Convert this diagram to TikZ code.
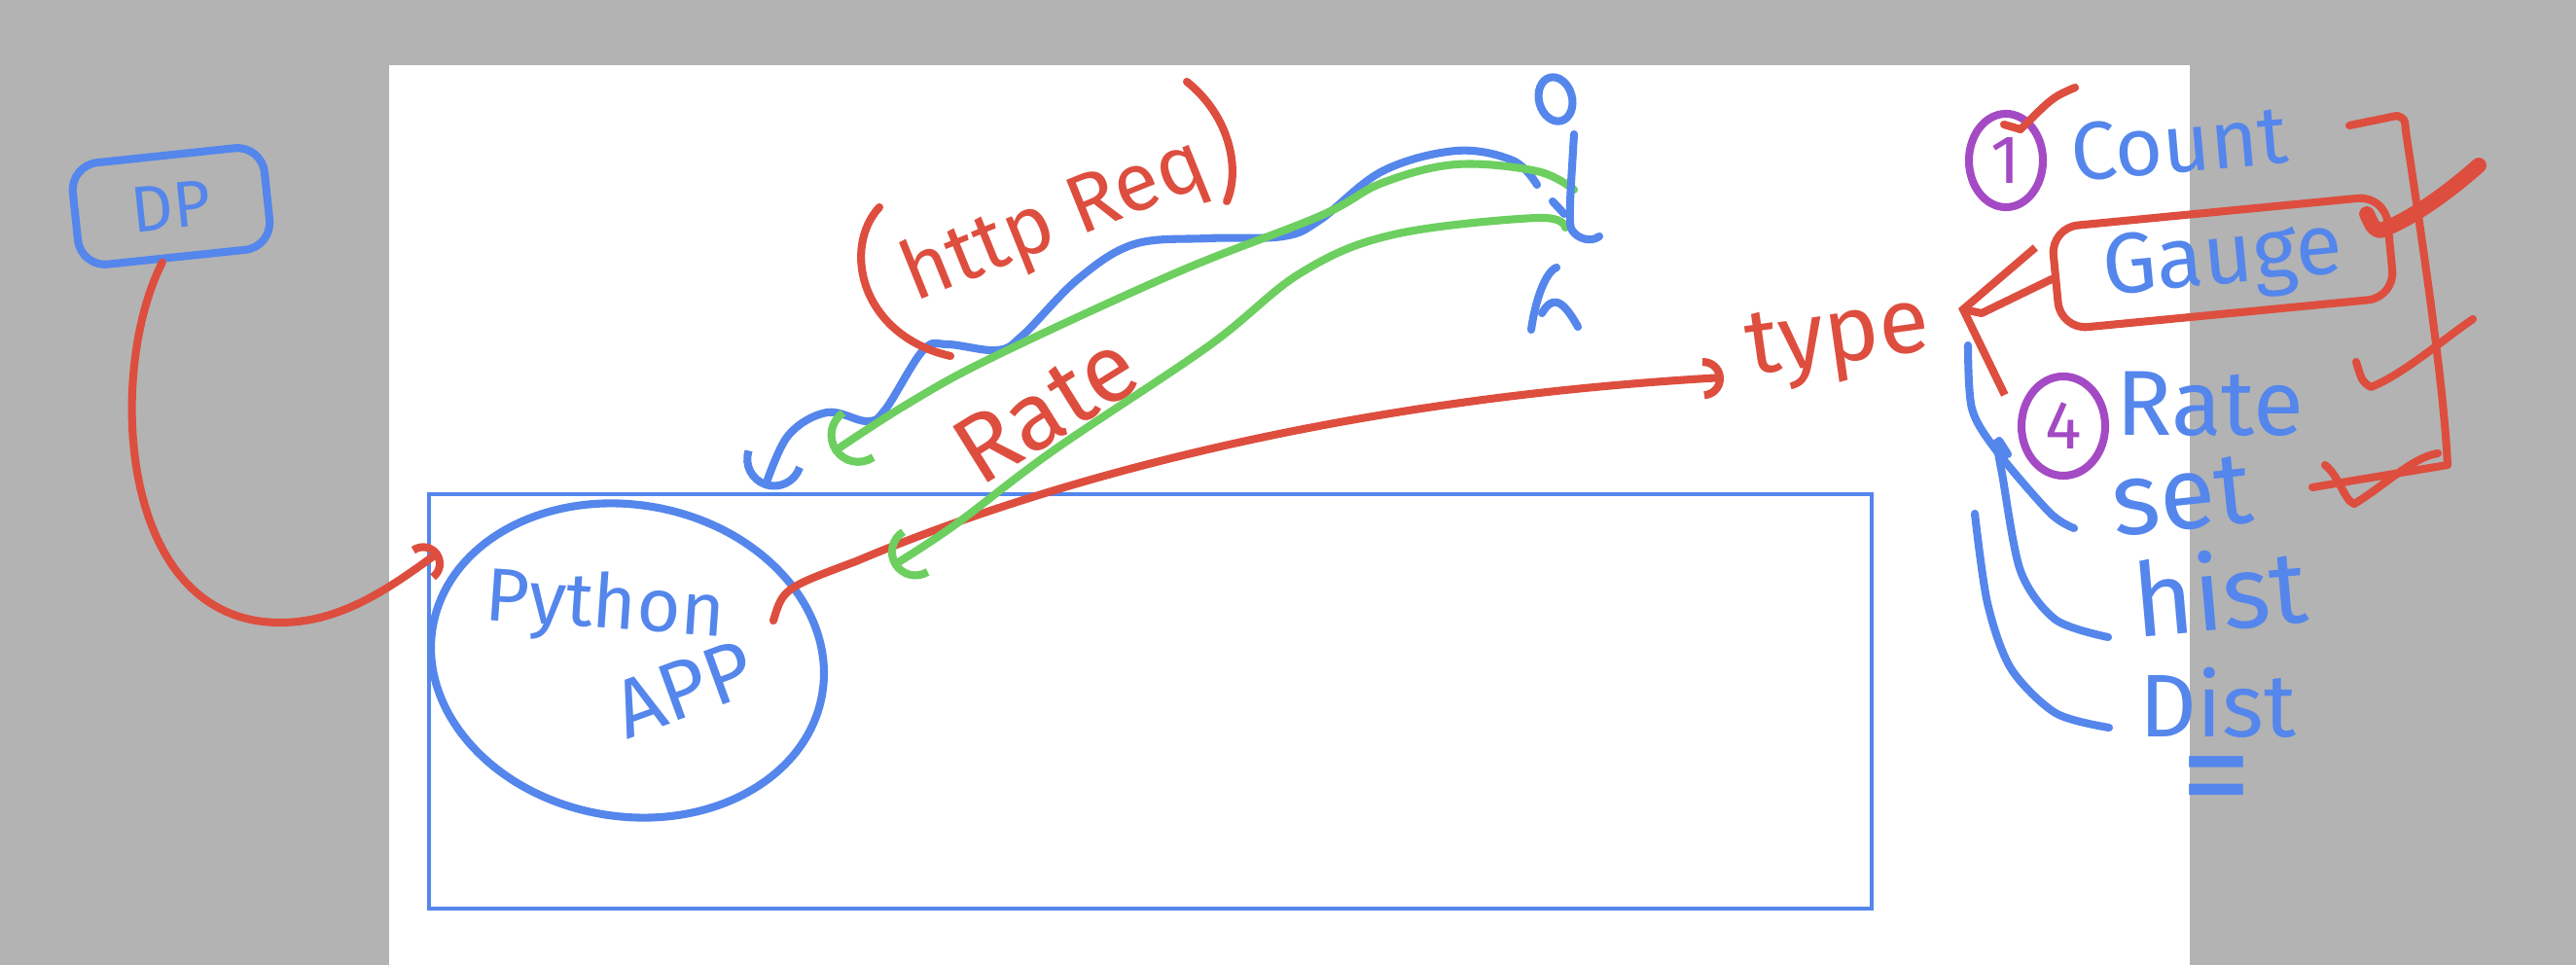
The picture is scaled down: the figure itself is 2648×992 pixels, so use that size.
\documentclass[tikz,border=0pt]{standalone}
\usepackage{fontspec}
\setmainfont{Fira Sans}
\usetikzlibrary{shapes.geometric, arrows.meta}
\usepackage{xcolor}
\definecolor{penblue}{RGB}{84,134,236}
\definecolor{penred}{RGB}{221,78,63}
\definecolor{pengreen}{RGB}{108,207,95}
\definecolor{penpurple}{RGB}{164,74,196}
\definecolor{deskgray}{RGB}{179,179,179}

\begin{document}
\begin{tikzpicture}[
    x=0.01cm, y=-0.01cm,
    pen/.style={line width=2.3pt, line cap=round, line join=round},
    bluepen/.style={pen, draw=penblue},
    redpen/.style={pen, draw=penred},
    greenpen/.style={pen, draw=pengreen},
    scrawl/.style={inner sep=0pt, font=\fontsize{#1}{#1}\selectfont},
    bluetext/.style={scrawl=#1, text=penblue},
    redtext/.style={scrawl=#1, text=penred},
    tagbox/.style={pen, draw=#1, rounded corners=0.28cm, inner sep=0pt},
    badge/.style={pen, draw=penpurple, ellipse, inner sep=0pt, text=penpurple, font=\fontsize{20}{20}\selectfont},
    hook/.style={-{Arc Barb[width=#1, length=0.5*#1]}}
]

\useasboundingbox (0,0) rectangle (2648,992);
\fill[deskgray] (0,0) rectangle (2648,992);
\fill[white] (400,67) rectangle (2251,992);
\draw[penblue, line width=1.4pt] (441,508) rectangle (1924,934);

\node[tagbox=penblue, bluetext=19, rotate=6, minimum width=1.98cm, minimum height=1.05cm] (dp) at (176,212) {DP};
\node[pen, draw=penblue, ellipse, minimum width=4.06cm, minimum height=3.2cm, rotate=-10, inner sep=0pt] (app) at (645,679) {};
\node[bluetext=22, rotate=-4] (python) at (622,625) {Python};
\node[bluetext=24, rotate=20] (apptext) at (703,708) {APP};

\node[redtext=24, rotate=22] (httpreq) at (1085,228) {http Req};
\node[redtext=28, rotate=32] (ratenote) at (1075,420) {Rate};
\node[redtext=27, rotate=8] (type) at (1890,352) {type};

\node[badge, minimum width=0.76cm, minimum height=0.96cm] (one) at (2062,165) {1};
\node[badge, minimum width=0.86cm, minimum height=1.02cm] (four) at (2121,438) {4};
\node[bluetext=24, rotate=5] (count) at (2240,148) {Count};
\node[tagbox=penred, bluetext=25, rotate=5.5, minimum width=3.45cm, minimum height=1.05cm] (gauge) at (2285,270) {Gauge};
\node[bluetext=27] (rate) at (2272,415) {Rate};
\node[bluetext=30, rotate=6] (set) at (2243,510) {set};
\node[bluetext=30, rotate=5] (hist) at (2282,607) {hist};
\node[bluetext=26] (dist) at (2280,722) {Dist};
\node[bluetext=42] (eq) at (2278,812) {=};

\coordinate (dpin) at (452,567);
\coordinate (appout) at (795,638);
\coordinate (typein) at (1772,388);

\draw[redpen, hook=12pt] (dp.255) .. controls (110,380) and (120,640) .. (288,640) .. controls (350,640) and (400,605) .. (dpin);
\draw[redpen, hook=12pt] (appout) .. controls (805,605) .. (880,577) .. controls (1050,505) and (1350,412) .. (typein);

\draw[bluepen, hook=18pt] plot[smooth, tension=0.6] coordinates {(1580,190) (1555,165) (1497,155) (1421,176) (1357,226) (1319,243) (1242,245) (1166,251) (1108,287) (1051,345) (1025,360) (974,354) (949,360) (910,421) (891,433) (850,424) (810,448) (786,502)};
\draw[greenpen, hook=18pt] plot[smooth, tension=0.6] coordinates {(1618,195) (1580,176) (1497,169) (1421,188) (1357,222) (1210,280) (1019,368) (930,417) (856,465)};
\draw[greenpen, hook=16pt] plot[smooth, tension=0.6] coordinates {(1609,234) (1580,224) (1433,241) (1338,280) (1242,356) (1083,463) (981,540) (917,582)};

\draw[redpen] (904,213) .. controls (865,255) and (885,345) .. (977,366);
\draw[redpen] (1220,84) .. controls (1265,120) and (1275,175) .. (1261,207);

\draw[bluepen, rotate around={15:(1599,102)}] (1599,102) ellipse [x radius=17, y radius=23];
\draw[bluepen] (1618,138) .. controls (1615,190) and (1612,225) .. (1615,235) .. controls (1620,245) and (1635,250) .. (1644,243);
\draw[bluepen] (1596,207) -- (1608,220);
\draw[bluepen] (1574,339) .. controls (1578,310) and (1588,280) .. (1600,275);
\draw[bluepen] (1585,322) .. controls (1595,305) and (1605,305) .. (1622,336);

\draw[redpen, -{Straight Barb[length=17pt, width=44pt]}] (gauge.west) -- (2037,322) -- (2013,317);
\draw[redpen] (2133,90) .. controls (2110,100) .. (2077,133) -- (2060,128);

\draw[bluepen] plot[smooth] coordinates {(2023,355) (2027,420) (2052,463) (2107,527) (2132,543)};
\draw[bluepen] plot[smooth] coordinates {(2052,455) (2058,487) (2077,587) (2113,637) (2167,655)};
\draw[bluepen] (2055,453) -- (2064,467);
\draw[bluepen] plot[smooth] coordinates {(2030,528) (2043,620) (2067,687) (2113,733) (2168,748)};

\draw[redpen] (2415,129) -- (2464,119) .. controls (2472,122) .. (2473,135) .. controls (2495,280) and (2512,400) .. (2516,478) -- (2377,501);
\draw[redpen, line width=4.5pt] (2433,220) .. controls (2440,235) .. (2447,237) .. controls (2480,225) and (2520,195) .. (2548,170);
\draw[redpen] (2422,372) .. controls (2428,392) .. (2437,398) .. controls (2470,385) and (2510,350) .. (2542,328);
\draw[redpen] (2390,478) .. controls (2405,490) and (2410,515) .. (2420,518) .. controls (2450,500) and (2480,470) .. (2506,466);

\end{tikzpicture}
\end{document}
